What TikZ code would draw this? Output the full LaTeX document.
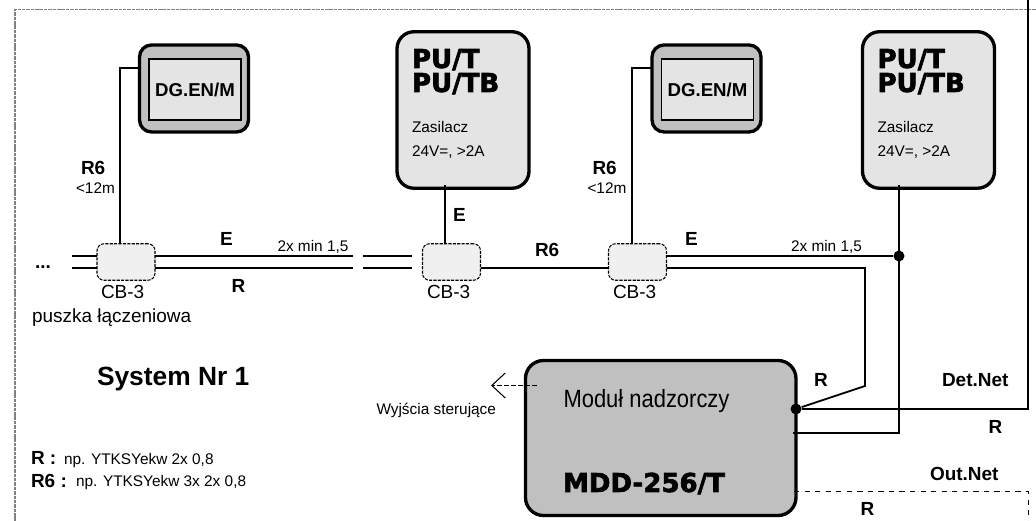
\documentclass[tikz,border=0pt]{standalone}
\usepackage{fontspec}
\usepackage{tikz}
\usetikzlibrary{arrows.meta}
\setmainfont{Liberation Sans}
\newfontfamily\blackfont{DejaVu Sans}[BoldFeatures={FakeBold=2.4}]
\definecolor{boxgray}{HTML}{C0C0C0}
\definecolor{screengray}{HTML}{E4E4E4}
\definecolor{cbgray}{HTML}{F0F0F0}
\definecolor{framegray}{HTML}{808080}
\tikzset{
    wire/.style={line width=1.05pt},
    dgbox/.style={draw,line width=1.9pt,fill=boxgray,rounded corners=0.24cm,minimum width=2.18cm,minimum height=1.74cm,inner sep=0pt,outer sep=0pt},
    dgscreen/.style={draw,semithick,fill=screengray,minimum width=1.84cm,minimum height=1.22cm,inner sep=0pt,outer sep=0pt,font=\fontsize{10.6}{12}\selectfont\bfseries},
    pubox/.style={draw,line width=1.9pt,fill=screengray,rounded corners=0.34cm,minimum width=2.64cm,minimum height=3.13cm,inner sep=0pt,outer sep=0pt},
    cbbox/.style={draw,semithick,dash pattern=on 1.8pt off 0.7pt,fill=cbgray,rounded corners=0.14cm,minimum width=1.16cm,minimum height=0.73cm,inner sep=0pt,outer sep=0pt},
    jdot/.style={circle,fill=black,inner sep=0pt,minimum size=0.22cm},
    lbl/.style={anchor=base west,inner sep=0pt,outer sep=0pt},
    lblsmall/.style={lbl,font=\fontsize{8.75}{10}\selectfont},
    lblmid/.style={lbl,font=\fontsize{10.8}{12}\selectfont},
    lblbold/.style={lbl,font=\fontsize{10.8}{12}\selectfont\bfseries},
    lblblack/.style={lbl,font=\fontsize{14.8}{16}\selectfont\blackfont\bfseries}
}

\begin{document}
\begin{tikzpicture}
    \useasboundingbox (0,0) rectangle (20.72,10.42);

    % outer frame
    \draw[framegray,line width=0.9pt,dash pattern=on 2pt off 0.5pt] (0.3,0) -- (0.3,10.23) -- (20.72,10.23);

    % displays
    \node[dgbox] (dgA) at (3.88,8.65) {};
    \node[dgscreen] (dgAscreen) at (3.9,8.63) {DG.EN/M};
    \node[dgbox] (dgB) at (14.13,8.65) {};
    \node[dgscreen] (dgBscreen) at (14.15,8.63) {DG.EN/M};

    % power supplies
    \node[pubox] (puA) at (9.26,8.22) {};
    \node[lblblack] (puAtop) at (8.24,9.06) {PU/T};
    \node[lblblack] (puAbot) at (8.24,8.58) {PU/TB};
    \node[lblsmall] (puAz) at (8.24,7.76) {Zasilacz};
    \node[lblsmall] (puAv) at (8.24,7.28) {24V=, >2A};

    \node[pubox] (puB) at (18.57,8.22) {};
    \node[lblblack] (puBtop) at (17.55,9.06) {PU/T};
    \node[lblblack] (puBbot) at (17.55,8.58) {PU/TB};
    \node[lblsmall] (puBz) at (17.55,7.76) {Zasilacz};
    \node[lblsmall] (puBv) at (17.55,7.28) {24V=, >2A};

    % junction boxes
    \node[cbbox] (cbA) at (2.52,5.18) {};
    \node[cbbox] (cbB) at (9.03,5.18) {};
    \node[cbbox] (cbC) at (12.75,5.18) {};
    \node[lblmid] (cbAname) at (2.02,4.44) {CB-3};
    \node[lblmid] (cbBname) at (8.54,4.44) {CB-3};
    \node[lblmid] (cbCname) at (12.26,4.44) {CB-3};
    \node[lblmid] (cbAnote) at (0.64,3.96) {puszka łączeniowa};

    % supervisor module
    \node[draw,line width=1.9pt,fill=boxgray,rounded corners=0.36cm,minimum width=5.41cm,minimum height=3.1cm,inner sep=0pt,outer sep=0pt] (mdd) at (13.215,1.66) {};
    \node[lbl,font=\fontsize{14.2}{16}\selectfont,xscale=0.88,transform shape] (mddname) at (11.27,2.26) {Moduł nadzorczy};
    \node[lblblack] (mddtype) at (11.26,0.58) {MDD-256/T};

    % junction dots and free ends
    \node[jdot] (dotE) at (17.98,5.30) {};
    \node[jdot] (dotDet) at (15.92,2.24) {};
    \coordinate (endEl) at (1.44,5.30);
    \coordinate (endRl) at (1.44,5.06);
    \coordinate (breakEa) at (7.06,5.30);
    \coordinate (breakRa) at (7.06,5.06);
    \coordinate (breakEb) at (7.26,5.30);
    \coordinate (breakRb) at (7.26,5.06);
    \coordinate (stopEb) at (8.24,5.30);
    \coordinate (stopRb) at (8.24,5.06);
    \coordinate (bendRa) at (17.30,5.06);
    \coordinate (bendRb) at (17.30,2.70);
    \coordinate (detTop) at (20.56,10.42);
    \coordinate (outEnd) at (20.56,0);
    \coordinate (wyjStart) at (10.74,2.71);
    \coordinate (wyjEnd) at (9.82,2.71);

    % R6 to the displays
    \draw[wire] ([yshift=0.41cm]dgA.west) -| ([xshift=-0.12cm]cbA.north);
    \draw[wire] ([yshift=0.41cm]dgB.west) -| ([xshift=-0.11cm]cbC.north);

    % E and R pairs
    \draw[wire] (endEl) -- (endEl -| cbA.west);
    \draw[wire] (endRl) -- (endRl -| cbA.west);
    \draw[wire] (breakEa -| cbA.east) -- (breakEa);
    \draw[wire] (breakRa -| cbA.east) -- (breakRa);
    \draw[wire] (breakEb) -- (stopEb);
    \draw[wire] (breakRb) -- (stopRb);
    \draw[wire] ([yshift=-0.12cm]cbB.east) -- ([yshift=-0.12cm]cbC.west);
    \draw[wire] ([yshift=0.12cm]cbC.east) -- (dotE);
    \draw[wire] ([yshift=-0.12cm]cbC.east) -- (bendRa) -- (bendRb) -- (dotDet);

    % supplies to the line
    \draw[wire] ([xshift=-0.36cm,yshift=0.06cm]puA.south) -- ([xshift=-0.36cm]cbB.north -| puA.south);
    \draw[wire] ([xshift=-0.59cm,yshift=0.06cm]puB.south) |- ([xshift=-0.06cm,yshift=0.1cm]mdd.east);

    % nets
    \draw[wire] (dotDet) -| (detTop);
    \draw[thin,dashed] ([xshift=-0.04cm,yshift=-1.06cm]mdd.east) -| (outEnd);
    \draw[semithick,dash pattern=on 3pt off 1pt,-{Straight Barb[length=0.27cm,width=0.5cm]}] (wyjStart) -- (wyjEnd);

    % cable labels
    \node[lblbold] (rA) at (1.62,6.92) {R6};
    \node[lblsmall] (rAlen) at (1.52,6.54) {<12m};
    \node[lblbold] (rB) at (11.85,6.92) {R6};
    \node[lblsmall] (rBlen) at (11.75,6.54) {<12m};
    \node[lblbold] (eA) at (4.4,5.51) {E};
    \node[lblbold] (eB) at (9.06,5.99) {E};
    \node[lblbold] (eC) at (13.7,5.51) {E};
    \node[lblsmall] (wireA) at (5.55,5.39) {2x min 1,5};
    \node[lblsmall] (wireB) at (15.82,5.39) {2x min 1,5};
    \node[lblbold] (rBus) at (4.63,4.56) {R};
    \node[lblbold] (rMid) at (10.7,5.29) {R6};
    \node[lblbold] (rMod) at (16.28,2.69) {R};
    \node[lblbold] (detName) at (18.84,2.69) {Det.Net};
    \node[lblbold] (rDet) at (19.77,1.74) {R};
    \node[lblbold] (outName) at (18.6,0.8) {Out.Net};
    \node[lblbold] (rOut) at (17.21,0.11) {R};
    \node[lblbold] (dots) at (0.7,5.04) {...};

    % legend
    \node[lbl,font=\fontsize{15}{17}\selectfont\bfseries] (sysname) at (1.94,2.7) {System Nr 1};
    \node[lblbold] (legR) at (0.62,1.13) {R :};
    \node[lblsmall] (legRtxt) at (1.28,1.13) {np. YTKSYekw 2x 0,8};
    \node[lblbold] (legRsix) at (0.62,0.66) {R6 :};
    \node[lblsmall] (legRsixtxt) at (1.52,0.68) {np. YTKSYekw 3x 2x 0,8};
    \node[lblsmall] (wyjName) at (7.53,2.12) {Wyjścia sterujące};
\end{tikzpicture}
\end{document}
